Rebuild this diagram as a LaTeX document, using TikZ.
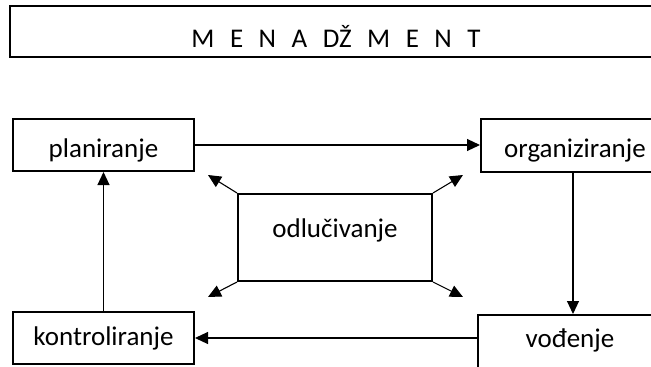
\documentclass[tikz,border=0pt]{standalone}
\usepackage{fontspec}
\setmainfont{Carlito}
\usetikzlibrary{arrows.meta}
\begin{document}
\begin{tikzpicture}[x=1pt,y=-1pt,
  box/.style={draw=black,line width=2pt,inner sep=0pt,fill=none},
  txt/.style={inner sep=0pt,anchor=base,font=\fontsize{27}{32}\selectfont,text=black},
  conn/.style={line width=1.1pt,-{Triangle[length=13pt,width=12pt]}}]
\useasboundingbox (0,0) rectangle (651,367);
% title
\node[box,minimum width=660pt,minimum height=51pt] (title) at (340,31.5) {};
\node[txt] (titletxt) at (336,47) {M\hspace{15.5pt}E\hspace{15.5pt}N\hspace{15.5pt}A\hspace{15.5pt}DŽ\hspace{15.5pt}M\hspace{15.5pt}E\hspace{15.5pt}N\hspace{15.5pt}T};
% boxes
\node[box,minimum width=181pt,minimum height=52pt] (plan) at (103.5,145) {};
\node[txt] (plantxt) at (103.5,157) {planiranje};
\node[box,minimum width=184pt,minimum height=53pt] (org) at (573,145) {};
\node[txt] (orgtxt) at (575,157) {organiziranje};
\node[box,minimum width=194pt,minimum height=87pt] (odl) at (335,237.5) {};
\node[txt] (odltxt) at (335,237) {odlučivanje};
\node[box,minimum width=181pt,minimum height=52pt] (kon) at (103.5,338) {};
\node[txt] (kontxt) at (103.5,345) {kontroliranje};
\node[box,minimum width=190pt,minimum height=60pt] (vod) at (573,345) {};
\node[txt] (vodtxt) at (570,347) {vođenje};
% connectors
\draw[conn] (plan) -- (org);
\draw[conn] (org) -- (vod);
\draw[conn] (vod.west |- kon.east) -- (kon.east);
\draw[conn] (kon) -- (plan);
\coordinate (tl) at (208,175);
\coordinate (tr) at (463,175);
\coordinate (bl) at (208,297);
\coordinate (br) at (463,297);
\draw[conn] (odl.north west) -- (tl);
\draw[conn] (odl.north east) -- (tr);
\draw[conn] (odl.south west) -- (bl);
\draw[conn] (odl.south east) -- (br);
\end{tikzpicture}
\end{document}
